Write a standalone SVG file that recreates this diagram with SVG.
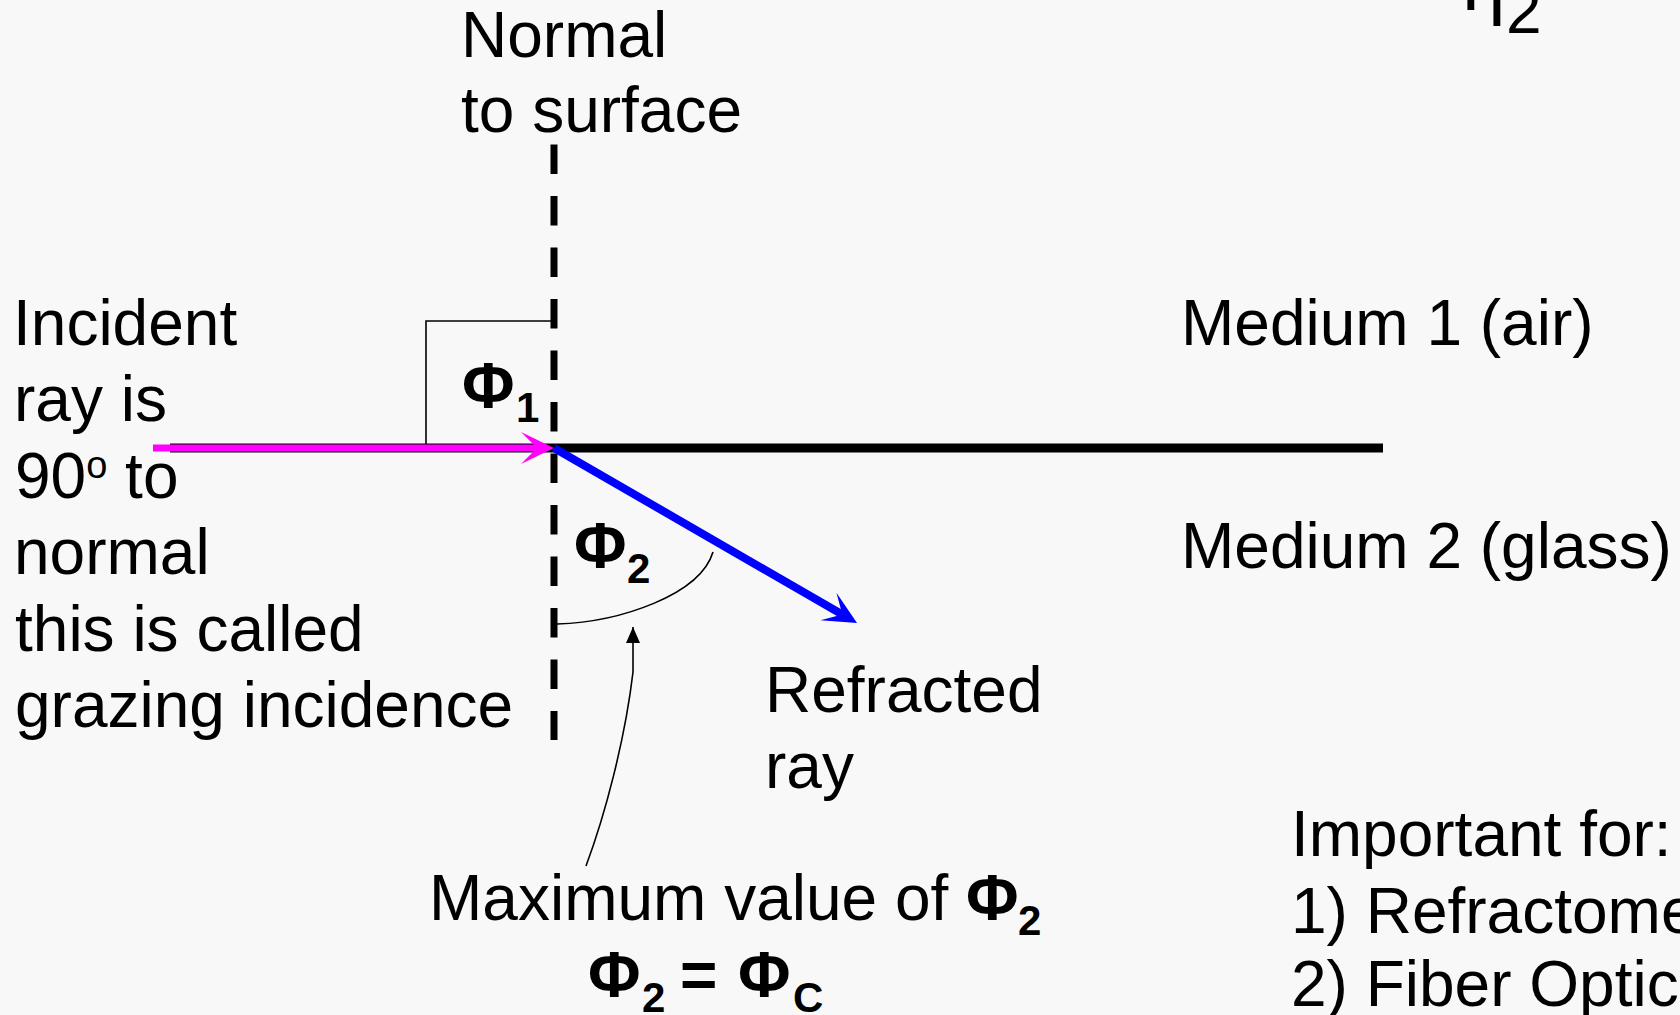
<svg xmlns="http://www.w3.org/2000/svg" width="1680" height="1015" viewBox="0 0 1680 1015">
<style>
text{font-family:"Liberation Sans",Arial,sans-serif;font-size:64px;fill:#000}
.b{font-weight:bold}
.sub{font-size:42px}
.sup{font-size:38px}
.thin{fill:none;stroke:#000;stroke-width:1.6}
</style>
<defs>
<marker id="stealthM" markerUnits="userSpaceOnUse" markerWidth="40" markerHeight="40" viewBox="-20 -20 40 40" refX="0" refY="0" orient="auto" overflow="visible">
<path d="M17,0 L-16,-16 L0,0 L-16,16 Z" fill="#ff00ff"/>
</marker>
<marker id="stealthB" markerUnits="userSpaceOnUse" markerWidth="40" markerHeight="40" viewBox="-20 -20 40 40" refX="0" refY="0" orient="auto" overflow="visible">
<path d="M17,0 L-16,-16 L0,0 L-16,16 Z" fill="#0000ff"/>
</marker>
<marker id="tri" markerUnits="userSpaceOnUse" markerWidth="20" markerHeight="20" viewBox="-16 -8 20 16" refX="0" refY="0" orient="auto" overflow="visible">
<path d="M0,0 L-16,-7 L-16,7 Z" fill="#000"/>
</marker>
</defs>
<rect width="1680" height="1015" fill="#f8f8f8"/>

<g id="connectors">
<line id="surface" x1="170" y1="448" x2="1383" y2="448" stroke="#000" stroke-width="9"/>
<line id="normal" x1="554" y1="144.5" x2="554" y2="740" stroke="#000" stroke-width="7" stroke-dasharray="29.5 22"/>
<path id="right-angle" class="thin" d="M426,449 L426,321 L554,321"/>
<line id="incident-ray" x1="153" y1="448" x2="537" y2="448" stroke="#ff00ff" stroke-width="7" marker-end="url(#stealthM)"/>
<line id="refracted-ray" x1="554" y1="448" x2="842.3" y2="614.5" stroke="#0000ff" stroke-width="8" marker-end="url(#stealthB)"/>
<path id="phi2-arc" class="thin" d="M557,624 C620,622 700,595 713,552"/>
<path id="pointer" class="thin" d="M586,866 C605,815 625,740 633,672 L633,627" marker-end="url(#tri)"/>
</g>

<g id="eta2"><text x="1462" y="10" style="font-size:78px">η<tspan x="1506" y="33" style="font-size:64px">2</tspan></text></g>

<g id="normal-label"><text x="461" y="57">Normal</text><text x="461" y="132">to surface</text></g>

<g id="incident-label">
<text x="13" y="345">Incident</text>
<text x="14" y="421">ray is</text>
<text x="15" y="498">90<tspan class="sup" dy="-20">o</tspan><tspan dy="20"> to</tspan></text>
<text x="14" y="574">normal</text>
<text x="15" y="651">this is called</text>
<text x="15" y="727">grazing incidence</text>
</g>

<g id="phi1-label"><text class="b" x="462" y="408">Φ<tspan class="sub" x="516" y="422">1</tspan></text></g>
<g id="phi2-label"><text class="b" x="574" y="568">Φ<tspan class="sub" x="627" y="583">2</tspan></text></g>

<g id="medium1-label"><text x="1181" y="345">Medium 1 (air)</text></g>
<g id="medium2-label"><text x="1181" y="568">Medium 2 (glass)</text></g>

<g id="refracted-label"><text x="765" y="712">Refracted</text><text x="765" y="788">ray</text></g>

<g id="max-label">
<text x="429" y="920">Maximum value of <tspan class="b" x="966">Φ</tspan><tspan class="b sub" x="1018" y="935">2</tspan></text>
<text class="b" x="588" y="997">Φ<tspan class="sub" x="642" y="1012">2</tspan><tspan x="680" y="997">=</tspan><tspan x="738" y="997">Φ</tspan><tspan class="sub" x="793" y="1012">C</tspan></text>
</g>

<g id="important-label">
<text x="1291" y="856">Important for:</text>
<text x="1291" y="933">1) Refractometer</text>
<text x="1291" y="1006">2) Fiber Optics</text>
</g>
</svg>
